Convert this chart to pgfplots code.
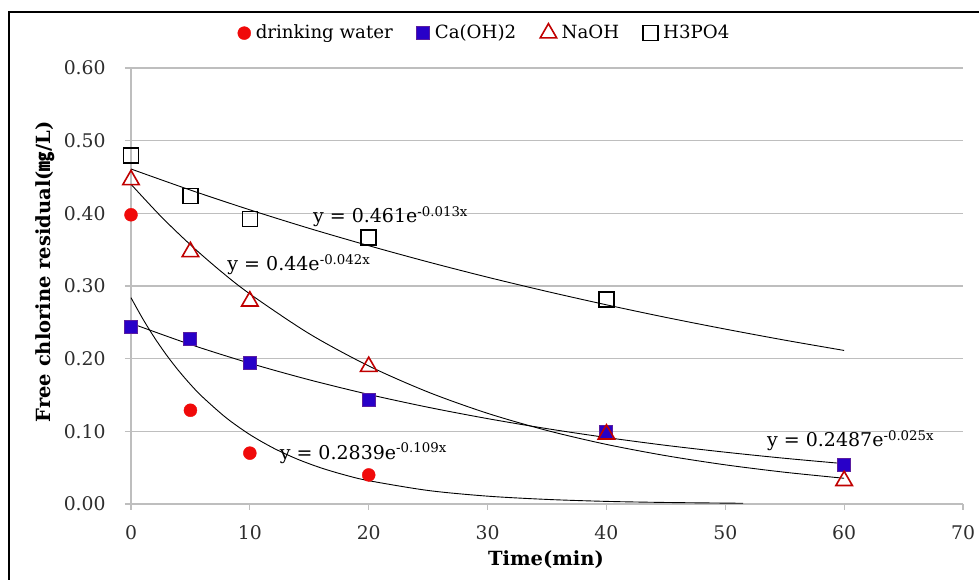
\documentclass[border=0pt]{standalone}
\usepackage{fontspec}
\setmainfont{DejaVu Serif}
\newfontfamily\cjk{Noto Sans CJK KR}
\usepackage{pgfplots}
\pgfplotsset{compat=1.18}
\definecolor{dwred}{RGB}{240,10,10}
\definecolor{cablue}{RGB}{40,0,200}
\definecolor{caedge}{RGB}{90,30,160}
\definecolor{nared}{RGB}{192,0,0}
\definecolor{gridgray}{RGB}{190,190,190}
\definecolor{ticktext}{RGB}{45,45,45}

\begin{document}
\begin{tikzpicture}
\fontsize{18.5pt}{21pt}\selectfont
% picture area = 979 x 580 px, 1px = 1pt, origin at the plot's lower left
\useasboundingbox (-131pt,-76pt) rectangle (848pt,504pt);
\draw[line width=1.5pt] (-122pt,-80pt) -- (-122pt,492pt) -- (852pt,492pt);
\begin{axis}[
  at={(0pt,0pt)}, anchor=origin,
  scale only axis,
  width=832pt, height=436pt,
  xmin=0, xmax=70, ymin=0, ymax=0.6,
  xtick={0,10,...,70},
  ytick={0,0.1,0.2,0.3,0.4,0.5,0.6},
  axis x line*=bottom, axis y line*=left,
  axis line style={gridgray, line width=1.2pt},
  ymajorgrids,
  grid style={gridgray, line width=1.2pt},
  tick style={gridgray, line width=1.2pt},
  tick align=outside,
  major tick length=6pt,
  /pgf/number format/assume math mode=true,
  ticklabel style={font=\fontsize{18.8pt}{21pt}\selectfont, text=ticktext},
  xticklabel style={yshift=-9pt},
  yticklabel style={xshift=-13pt, /pgf/number format/fixed,
    /pgf/number format/fixed zerofill, /pgf/number format/precision=2},
  xlabel={\bfseries Time(min)},
  ylabel={\bfseries Free chlorine residual({\cjk ㎎}/L)},
  label style={font=\fontsize{19.5pt}{22pt}\selectfont},
  x label style={at={(rel axis cs:0.4988,-0.128)}, anchor=center},
  y label style={at={(rel axis cs:-0.1034,0.532)}, anchor=center},
  legend columns=4,
  legend style={draw=none, fill=none, at={(0.425,1.08)}, anchor=center,
    font=\fontsize{18.2pt}{21pt}\selectfont,
    /tikz/every odd column/.append style={column sep=3pt},
    /tikz/every even column/.append style={column sep=22pt}},
  legend cell align=left,
  clip=false,
]
% data points
\addplot[only marks, mark=*, mark size=6.5pt, dwred, mark options={fill=dwred, draw=dwred}]
  coordinates {(0,0.398) (5,0.129) (10,0.070) (20,0.040)};
\addlegendentry{drinking water}
\addplot[only marks, mark=square*, mark size=6.5pt, mark options={fill=cablue, draw=caedge, line width=1pt}]
  coordinates {(0,0.244) (5,0.227) (10,0.194) (20,0.143) (40,0.099) (60,0.054)};
\addlegendentry{Ca(OH)2}
\addplot[only marks, mark=triangle, mark size=9.5pt, mark options={draw=nared, line width=1.6pt}]
  coordinates {(0,0.446) (5,0.347) (10,0.279) (20,0.189) (40,0.096) (60,0.032)};
\addlegendentry{NaOH}
\addplot[only marks, mark=square, mark size=7.5pt, mark options={draw=black, line width=1.7pt}]
  coordinates {(0,0.480) (5,0.424) (10,0.392) (20,0.367) (40,0.281)};
\addlegendentry{H3PO4}

% exponential trendlines (values of the printed fits)
\addplot[black, line width=0.9pt, smooth, forget plot] coordinates {
  (0,0.4610) (5,0.4320) (10,0.4048) (15,0.3793) (20,0.3555) (25,0.3331) (30,0.3121)
  (35,0.2925) (40,0.2741) (45,0.2568) (50,0.2407) (55,0.2255) (60,0.2113)};
\addplot[black, line width=0.9pt, smooth, forget plot] coordinates {
  (0,0.4400) (2.5,0.3961) (5,0.3567) (7.5,0.3211) (10,0.2891) (15,0.2343) (20,0.1900)
  (25,0.1540) (30,0.1248) (35,0.1012) (40,0.0820) (45,0.0665) (50,0.0539) (55,0.0437) (60,0.0354)};
\addplot[black, line width=0.9pt, smooth, forget plot] coordinates {
  (0,0.2487) (5,0.2195) (10,0.1937) (15,0.1709) (20,0.1508) (25,0.1331) (30,0.1175)
  (35,0.1037) (40,0.0915) (45,0.0807) (50,0.0713) (55,0.0629) (60,0.0555)};
\addplot[black, line width=0.9pt, smooth, forget plot] coordinates {
  (0,0.2839) (1,0.2546) (2,0.2283) (3,0.2047) (4,0.1836) (5,0.1646) (6,0.1476) (8,0.1187)
  (10,0.0955) (12,0.0768) (14,0.0617) (16,0.0496) (18,0.0399) (20,0.0321) (25,0.0186)
  (30,0.0108) (35,0.0063) (40,0.0036) (45,0.0021) (51.5,0.0010)};

% fit equations
\node[anchor=west, inner sep=0pt, font=\fontsize{19pt}{21pt}\selectfont] at (axis cs:15.3,0.395) {y = 0.461e\textsuperscript{-0.013x}};
\node[anchor=west, inner sep=0pt, font=\fontsize{19pt}{21pt}\selectfont] at (axis cs:8.1,0.329) {y = 0.44e\textsuperscript{-0.042x}};
\node[anchor=west, inner sep=0pt, font=\fontsize{19pt}{21pt}\selectfont] at (axis cs:12.5,0.070) {y = 0.2839e\textsuperscript{-0.109x}};
\node[anchor=west, inner sep=0pt, font=\fontsize{19pt}{21pt}\selectfont] at (axis cs:53.5,0.087) {y = 0.2487e\textsuperscript{-0.025x}};
\end{axis}
\end{tikzpicture}
\end{document}
